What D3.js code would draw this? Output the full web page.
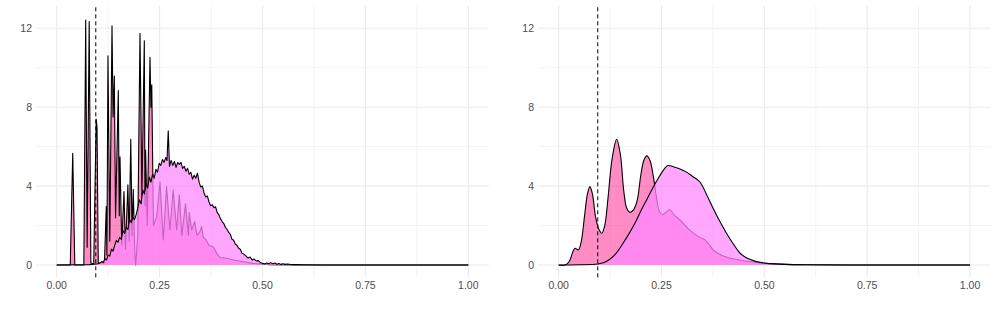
<!DOCTYPE html>
<html>
<head>
<meta charset="utf-8">
<script src="https://cdn.jsdelivr.net/npm/d3@7"></script>
<style>
    body { margin: 0; background: #fff; }
    text { font-family: "Liberation Sans", Arial, sans-serif; font-size: 10.5px; fill: #4d4d4d; }
</style>
</head>
<body>
<svg id="chart" width="997" height="311"></svg>
<script>
"use strict"

// cut-off shown as dashed line
let cutoff = 0.095

let xTicks = [0, 0.25, 0.5, 0.75, 1]
let xMinor = [0.125, 0.375, 0.625, 0.875]
let yTicks = [0, 4, 8, 12]
let yMinor = [2, 6, 10]

// left panel: narrow bandwidth
let leftPinkX = [0, 0.033, 0.039, 0.044, 0.066, 0.0705, 0.074, 0.079, 0.083, 0.09, 0.096, 0.098, 0.101, 0.116,
    0.1205, 0.122, 0.1246, 0.129, 0.1344, 0.137, 0.14, 0.143, 0.1497, 0.152, 0.1538, 0.158, 0.1635, 0.167,
    0.173, 0.176, 0.18, 0.183, 0.186, 0.19, 0.192, 0.197, 0.2024, 0.207, 0.2129, 0.2145, 0.216, 0.22, 0.2267,
    0.229, 0.231, 0.235, 0.243, 0.251, 0.259, 0.267, 0.275, 0.283, 0.2915, 0.298, 0.304, 0.313, 0.32, 0.322,
    0.328, 0.335, 0.341, 0.348, 0.352, 0.356, 0.362, 0.37, 0.381, 0.39, 0.397, 0.41, 0.43, 0.45, 0.478, 0.52, 0.6, 1]
let leftPinkY = [0, 0, 5.66, 0, 0, 12.42, 0.9, 12.34, 0.1, 0.05, 7.39, 7.0, 0.1, 0.1,
    2.96, 0.5, 10.6, 1.2, 12.12, 7.5, 9.58, 2.4, 8.84, 2.5, 5.49, 1.0, 3.72, 0.8,
    4.06, 1.2, 6.37, 1.5, 3.84, 0.5, 0, 1.5, 11.75, 3.5, 11.37, 3.0, 5.83, 2.0, 10.53,
    8.0, 9.13, 2.0, 2.45, 4.22, 1.27, 3.97, 1.77, 3.8, 1.77, 3.55, 1.5, 3.1, 1.5, 2.66,
    1.77, 2.2, 1.5, 1.69, 1.95, 1.4, 1.3, 1.0, 0.9, 0.55, 0.38, 0.35, 0.25, 0.18, 0.08, 0.02, 0, 0]

let leftMagX = [0, 0.08, 0.09, 0.1, 0.105, 0.11, 0.113, 0.117, 0.121, 0.125, 0.129, 0.133, 0.137, 0.141, 0.145,
    0.149, 0.153, 0.157, 0.161, 0.165, 0.169, 0.173, 0.177, 0.181, 0.185, 0.189, 0.193, 0.197, 0.201, 0.205,
    0.209, 0.213, 0.217, 0.221, 0.225, 0.229, 0.233, 0.237, 0.241, 0.245, 0.249, 0.253, 0.257, 0.261, 0.265,
    0.268, 0.271, 0.274, 0.278, 0.282, 0.286, 0.29, 0.294, 0.298, 0.302, 0.306, 0.31, 0.314, 0.318, 0.322,
    0.326, 0.33, 0.334, 0.338, 0.342, 0.346, 0.35, 0.354, 0.358, 0.362, 0.366, 0.37, 0.374, 0.378, 0.382,
    0.386, 0.39, 0.394, 0.398, 0.402, 0.406, 0.41, 0.414, 0.418, 0.422, 0.426, 0.43, 0.434, 0.438, 0.442,
    0.446, 0.45, 0.455, 0.46, 0.465, 0.47, 0.475, 0.48, 0.485, 0.49, 0.495, 0.5, 0.505, 0.51, 0.515, 0.52,
    0.525, 0.53, 0.535, 0.54, 0.545, 0.55, 0.555, 0.56, 0.57, 0.58, 0.6, 0.65, 1]
let leftMagY = [0, 0.02, 0.04, 0.06, 0.1, 0.18, 0.12, 0.32, 0.25, 0.5, 0.45, 0.8, 0.7, 1.0, 1.25,
    1.15, 1.4, 1.3, 1.75, 1.6, 1.9, 1.8, 2.3, 2.15, 2.4, 2.3, 2.55, 2.9, 3.3, 3.1,
    3.8, 3.6, 4.1, 3.9, 4.45, 4.2, 4.6, 4.4, 4.85, 4.7, 5.15, 5.05, 5.35, 5.2, 5.45,
    5.3, 6.8, 5.0, 5.3, 5.05, 5.25, 4.95, 5.2, 5.1, 5.2, 4.9, 5.0, 4.75, 4.9, 4.6,
    4.7, 4.35, 4.55, 4.4, 4.65, 4.2, 3.95, 4.0, 3.65, 3.45, 3.5, 3.2, 3.0, 3.05, 2.9,
    2.95, 2.65, 2.55, 2.35, 2.2, 2.1, 1.9, 1.8, 1.65, 1.55, 1.3, 1.25, 1.05, 1.0, 0.85,
    0.8, 0.6, 0.55, 0.45, 0.35, 0.4, 0.25, 0.3, 0.2, 0.22, 0.12, 0.08, 0.05, 0.1, 0.06, 0.12,
    0.06, 0.1, 0.04, 0.08, 0.03, 0.06, 0.03, 0.05, 0.02, 0.02, 0.01, 0, 0]

// right panel: smoothed
let rightPinkX = [0, 0.015, 0.025, 0.035, 0.04, 0.048, 0.055, 0.063, 0.07, 0.076, 0.082, 0.09, 0.098, 0.105,
    0.112, 0.12, 0.13, 0.141, 0.15, 0.158, 0.165, 0.172, 0.18, 0.19, 0.2, 0.207, 0.214, 0.222, 0.23, 0.238,
    0.245, 0.252, 0.26, 0.27, 0.28, 0.295, 0.31, 0.325, 0.343, 0.356, 0.365, 0.376, 0.39, 0.4, 0.42, 0.44,
    0.47, 0.5, 0.55, 0.6, 0.7, 1]
let rightPinkY = [0, 0, 0.15, 0.7, 0.85, 0.76, 1.2, 2.5, 3.6, 3.97, 3.6, 2.4, 1.8, 1.61,
    2.0, 3.4, 5.4, 6.37, 5.6, 3.8, 2.9, 2.68, 2.75, 3.2, 4.6, 5.3, 5.53, 5.3, 4.5, 3.4,
    2.7, 2.55, 2.65, 2.8, 2.55, 2.28, 1.95, 1.65, 1.4, 1.27, 1.05, 0.76, 0.56, 0.46, 0.33, 0.25,
    0.15, 0.08, 0.03, 0.01, 0, 0]

let rightMagX = [0, 0.05, 0.095, 0.11, 0.125, 0.14, 0.155, 0.17, 0.185, 0.2, 0.215, 0.23, 0.245, 0.258,
    0.266, 0.28, 0.295, 0.31, 0.325, 0.343, 0.36, 0.376, 0.392, 0.408, 0.425, 0.44, 0.455, 0.473, 0.49,
    0.506, 0.55, 0.6, 0.7, 1]
let rightMagY = [0, 0.01, 0.05, 0.12, 0.3, 0.6, 1.05, 1.55, 2.1, 2.75, 3.35, 3.95, 4.5, 4.9,
    5.04, 4.97, 4.87, 4.72, 4.5, 4.22, 3.55, 2.85, 2.2, 1.61, 1.05, 0.62, 0.38, 0.22, 0.13,
    0.08, 0.03, 0.01, 0, 0]

let pinkFill = "#ff1a8c"
let magFill = "#ff88ff"

let svg = d3.select("#chart")

let yscale = d3.scaleLinear().domain([-0.625, 13.125]).range([277.3, 6.1])

function zip(xs, ys) {
    return xs.map(function(x, i) { return [x, ys[i]] })
}

function drawPanel(x0, x1, labelRight, pink, mag, curve) {
    let xscale = d3.scaleLinear().domain([-0.05, 1.05]).range([x0, x1])
    let g = svg.append("g")

    // grid
    g.selectAll(".xminor").data(xMinor).enter().append("line")
        .attr("x1", d => xscale(d)).attr("x2", d => xscale(d))
        .attr("y1", yscale.range()[0]).attr("y2", yscale.range()[1])
        .attr("stroke", "#ebebeb").attr("stroke-width", 0.6)
    g.selectAll(".yminor").data(yMinor).enter().append("line")
        .attr("x1", x0).attr("x2", x1)
        .attr("y1", d => yscale(d)).attr("y2", d => yscale(d))
        .attr("stroke", "#ebebeb").attr("stroke-width", 0.6)
    g.selectAll(".xmajor").data(xTicks).enter().append("line")
        .attr("x1", d => xscale(d)).attr("x2", d => xscale(d))
        .attr("y1", yscale.range()[0]).attr("y2", yscale.range()[1])
        .attr("stroke", "#ebebeb").attr("stroke-width", 1.1)
    g.selectAll(".ymajor").data(yTicks).enter().append("line")
        .attr("x1", x0).attr("x2", x1)
        .attr("y1", d => yscale(d)).attr("y2", d => yscale(d))
        .attr("stroke", "#ebebeb").attr("stroke-width", 1.1)

    // tick labels
    g.selectAll(".xlab").data(xTicks).enter().append("text")
        .attr("x", d => xscale(d)).attr("y", 289)
        .attr("text-anchor", "middle")
        .text(d => d3.format(".2f")(d))
    g.selectAll(".ylab").data(yTicks).enter().append("text")
        .attr("x", labelRight).attr("y", d => yscale(d) + 3.8)
        .attr("text-anchor", "end")
        .text(d => d)

    let area = d3.area().curve(curve)
        .x(d => xscale(d[0])).y0(yscale(0)).y1(d => yscale(d[1]))
    let line = d3.line().curve(curve)
        .x(d => xscale(d[0])).y(d => yscale(d[1]))

    let series = [[pink, pinkFill, 0.5], [mag, magFill, 0.75]]
    series.forEach(function(s) {
        g.append("path").datum(s[0]).attr("d", area)
            .attr("fill", s[1]).attr("fill-opacity", s[2])
        g.append("path").datum(s[0]).attr("d", line)
            .attr("fill", "none").attr("stroke", "#000").attr("stroke-width", 1.1)
            .attr("stroke-linejoin", "round")
    })

    g.append("line")
        .attr("x1", xscale(cutoff)).attr("x2", xscale(cutoff))
        .attr("y1", yscale.range()[0]).attr("y2", yscale.range()[1])
        .attr("stroke", "#000").attr("stroke-width", 1)
        .attr("stroke-dasharray", "4,3")
}

drawPanel(36.1, 488.9, 32, zip(leftPinkX, leftPinkY), zip(leftMagX, leftMagY), d3.curveLinear)
drawPanel(538.1, 990.6, 534, zip(rightPinkX, rightPinkY), zip(rightMagX, rightMagY), d3.curveCatmullRom.alpha(0.5))
</script>
</body>
</html>
